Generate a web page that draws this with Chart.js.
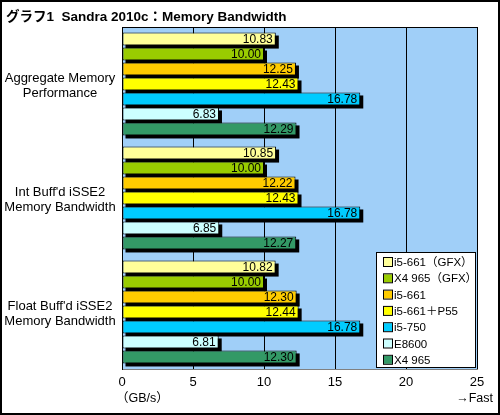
<!DOCTYPE html>
<html>
<head>
<meta charset="utf-8">
<script src="https://cdn.jsdelivr.net/npm/chart.js@4"></script>
<style>
  html, body { margin: 0; padding: 0; background: #fff; }
  canvas { display: block; }
</style>
</head>
<body>
<canvas id="bandwidthChart" width="500" height="415"></canvas>
<script>
// テスト項目（Y軸）
const categories = [
    ['Aggregate Memory', 'Performance'],
    ["Int Buff'd iSSE2", 'Memory Bandwidth'],
    ["Float Buff'd iSSE2", 'Memory Bandwidth']
];

// 系列名
const seriesNames = ['i5-661（GFX）', 'X4 965（GFX）', 'i5-661', 'i5-661＋P55', 'i5-750', 'E8600', 'X4 965'];

// 各系列の値 (GB/s)
const i5661Gfx = [10.83, 10.85, 10.82];
const x4965Gfx = [10.00, 10.00, 10.00];
const i5661 = [12.25, 12.22, 12.30];
const i5661P55 = [12.43, 12.43, 12.44];
const i5750 = [16.78, 16.78, 16.78];
const e8600 = [6.83, 6.85, 6.81];
const x4965 = [12.29, 12.27, 12.30];

// X軸目盛
const xTicks = [0, 5, 10, 15, 20, 25];

const seriesValues = [i5661Gfx, x4965Gfx, i5661, i5661P55, i5750, e8600, x4965];
const seriesColors = ['#FFFF99', '#99CC00', '#FFCC00', '#FFFF00', '#00CCFF', '#CCFFFF', '#339966'];

const FONT = '"Liberation Sans", "Noto Sans CJK JP", sans-serif';

// 背景・影・数値ラベル・タイトル・凡例
const decorPlugin = {
    id: 'decor',
    beforeDraw(chart) {
        const ctx = chart.ctx;
        const a = chart.chartArea;
        ctx.save();
        ctx.fillStyle = '#fff';
        ctx.fillRect(0, 0, chart.width, chart.height);
        ctx.fillStyle = '#A0CFF8';
        ctx.fillRect(a.left, a.top, a.right - a.left, a.bottom - a.top);
        ctx.restore();
    },
    beforeDatasetsDraw(chart) {
        const ctx = chart.ctx;
        ctx.save();
        ctx.fillStyle = '#000';
        chart.data.datasets.forEach((ds, i) => {
            chart.getDatasetMeta(i).data.forEach(bar => {
                const p = bar.getProps(['x', 'y', 'base', 'height'], true);
                ctx.fillRect(p.base + 3, p.y - p.height / 2 + 3, p.x - p.base, p.height);
            });
        });
        ctx.restore();
    },
    afterDatasetsDraw(chart) {
        const ctx = chart.ctx;
        ctx.save();
        ctx.font = '12px ' + FONT;
        ctx.fillStyle = '#000';
        ctx.textAlign = 'right';
        ctx.textBaseline = 'middle';
        chart.data.datasets.forEach((ds, i) => {
            chart.getDatasetMeta(i).data.forEach((bar, j) => {
                const p = bar.getProps(['x', 'y'], true);
                ctx.fillText(ds.data[j].toFixed(2), p.x - 3, p.y + 1);
            });
        });
        ctx.restore();
    },
    afterDraw(chart) {
        const ctx = chart.ctx;
        const a = chart.chartArea;
        const yScale = chart.scales.y;
        ctx.save();

        // 枠
        ctx.strokeStyle = '#000';
        ctx.lineWidth = 2;
        ctx.strokeRect(1, 1, chart.width - 2, chart.height - 2);

        // プロット上端
        ctx.lineWidth = 1;
        ctx.beginPath();
        ctx.moveTo(a.left, a.top + 0.5);
        ctx.lineTo(a.right, a.top + 0.5);
        ctx.stroke();

        // 項目名
        ctx.fillStyle = '#000';
        ctx.font = '13px ' + FONT;
        ctx.textAlign = 'center';
        ctx.textBaseline = 'middle';
        categories.forEach((lines, i) => {
            const cy = yScale.getPixelForValue(i);
            ctx.fillText(lines[0], 60, cy - 6);
            ctx.fillText(lines[1], 60, cy + 9);
        });

        // タイトル
        ctx.font = 'bold 13.5px ' + FONT;
        ctx.textAlign = 'left';
        ctx.textBaseline = 'alphabetic';
        ctx.fillText('グラフ1  Sandra 2010c：Memory Bandwidth', 6, 21);

        // 単位
        ctx.font = '12.5px ' + FONT;
        ctx.fillText('（GB/s）', 116, 402);
        ctx.textAlign = 'right';
        ctx.fillText('→Fast', 493, 402);

        // 凡例
        const lx = 376, ly = 252, lw = 99, lh = 115;
        ctx.fillStyle = '#fff';
        ctx.fillRect(lx, ly, lw, lh);
        ctx.strokeStyle = '#000';
        ctx.strokeRect(lx + 0.5, ly + 0.5, lw, lh);
        ctx.font = '11.5px ' + FONT;
        ctx.textAlign = 'left';
        ctx.textBaseline = 'middle';
        chart.data.datasets.forEach((ds, i) => {
            const cy = 262 + i * 16.3;
            ctx.fillStyle = ds.backgroundColor;
            ctx.fillRect(384, cy - 4, 8, 8);
            ctx.strokeStyle = '#000';
            ctx.strokeRect(383.5, cy - 4.5, 9, 9);
            ctx.fillStyle = '#000';
            ctx.fillText(ds.label, 394, cy + 1);
        });
        ctx.restore();
    }
};

const ctx = document.getElementById('bandwidthChart').getContext('2d');
new Chart(ctx, {
    type: 'bar',
    data: {
        labels: categories,
        datasets: seriesNames.map((name, i) => ({
            label: name,
            data: seriesValues[i],
            backgroundColor: seriesColors[i],
            borderColor: '#000',
            borderWidth: 1,
            borderSkipped: false,
            categoryPercentage: 0.92,
            barPercentage: 0.87
        }))
    },
    options: {
        indexAxis: 'y',
        responsive: false,
        animation: false,
        devicePixelRatio: 1,
        layout: {
            padding: { top: 27, right: 23, bottom: 0, left: 0 }
        },
        plugins: {
            legend: { display: false },
            tooltip: { enabled: false }
        },
        scales: {
            x: {
                min: 0,
                max: 25,
                afterBuildTicks: scale => {
                    scale.ticks = xTicks.map(v => ({ value: v }));
                },
                afterFit: scale => { scale.height = 46; },
                grid: {
                    color: '#000',
                    drawTicks: false
                },
                border: { display: true, color: '#808080' },
                ticks: {
                    padding: 6,
                    color: '#000',
                    font: { family: FONT, size: 13 }
                }
            },
            y: {
                afterFit: scale => { scale.width = 122; },
                grid: { display: false },
                border: { display: true, color: '#000' },
                ticks: { display: false }
            }
        }
    },
    plugins: [decorPlugin]
});
</script>
</body>
</html>
